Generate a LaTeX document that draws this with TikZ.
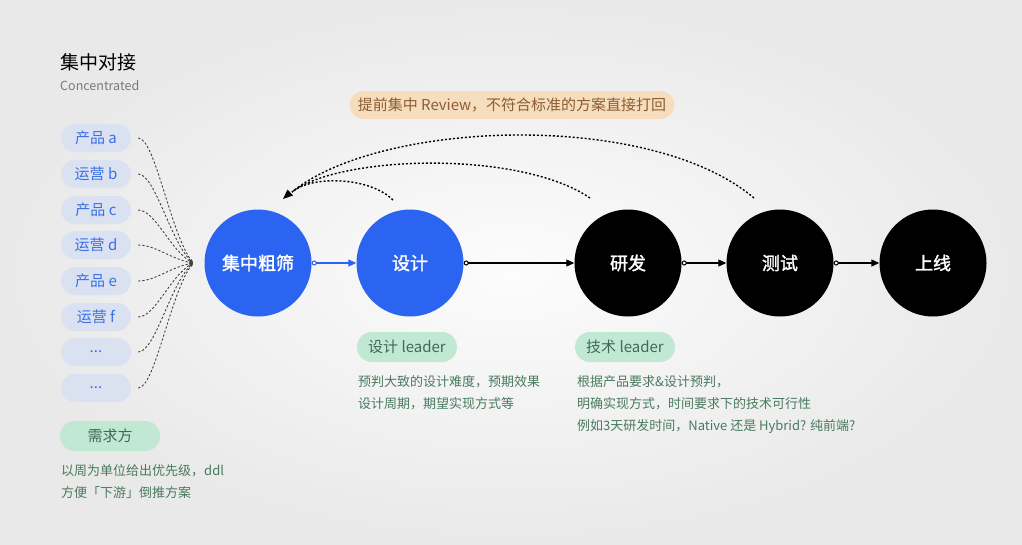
\documentclass[tikz,border=0pt]{standalone}
\usepackage{fontspec}
\setmainfont{Noto Sans CJK SC}
\newfontfamily\medfont{Noto Sans CJK SC}[FakeBold=1.6]
\usetikzlibrary{arrows.meta,positioning}
\definecolor{bgin}{HTML}{FCFCFC}
\definecolor{bgout}{HTML}{E9E9E9}
\definecolor{cblue}{HTML}{2B64F1}
\definecolor{pillblue}{HTML}{DAE2F2}
\definecolor{txtblue}{HTML}{3C6FE6}
\definecolor{pillgreen}{HTML}{C0E8D3}
\definecolor{txtgreen}{HTML}{3F6A55}
\definecolor{desc}{HTML}{497A5F}
\definecolor{pillorange}{HTML}{F6DDBE}
\definecolor{txtorange}{HTML}{8C5E33}
\definecolor{graytxt}{HTML}{7A7A7A}
\begin{document}
\begin{tikzpicture}[x=1pt,y=-1pt,
  reqpill/.style={rounded corners=14pt, fill=pillblue, minimum width=70pt, minimum height=28pt, inner sep=0pt, text=txtblue, font=\fontsize{15}{15}\selectfont},
  grnpill/.style={rounded corners=15pt, fill=pillgreen, minimum width=100pt, minimum height=30pt, inner sep=0pt, text=txtgreen, font=\fontsize{15}{15}\selectfont},
  stage/.style={circle, minimum size=107pt, inner sep=0pt, text=white, font=\medfont\fontsize{18}{18}\selectfont},
  desctext/.style={anchor=north west, inner sep=0pt, text=desc, align=left, font=\fontsize{13}{22}\selectfont},
  fan/.style={dash pattern=on 2.2pt off 2pt, line width=0.9pt, draw=black!75, -{Stealth[length=4pt,width=3pt]}},
  back/.style={dash pattern=on 2pt off 2pt, line width=1.4pt, draw=black},
  flow/.style={line width=1.2pt, {Circle[length=5pt,fill=white,line width=1pt]}-{Triangle[length=8pt,width=7pt]}}
]
\shade[inner color=bgin, outer color=bgout] (0,0) rectangle (1022,544);
\useasboundingbox (0,0) rectangle (1022,544);

% title
\node[anchor=west, inner sep=0pt, font=\fontsize{19}{19}\selectfont] (title) at (60,62) {集中对接};
\node[anchor=west, inner sep=0pt, text=graytxt, font=\fontsize{12.5}{12.5}\selectfont] (sub) at (60,86) {Concentrated};

% requirement pills
\node[reqpill] (r1) at (96,138) {产品 a};
\node[reqpill] (r2) at (96,174) {运营 b};
\node[reqpill] (r3) at (96,210) {产品 c};
\node[reqpill] (r4) at (96,245) {运营 d};
\node[reqpill] (r5) at (96,281) {产品 e};
\node[reqpill] (r6) at (96,317) {运营 f};
\node[reqpill] (r7) at (96,352) {...};
\node[reqpill] (r8) at (96,388) {...};

\coordinate (hub) at (193,263);
\foreach \i/\y in {1/138,2/174,3/210,4/245,5/281,6/317,7/352,8/388}{
  \pgfmathsetmacro{\cy}{0.25*\y+0.75*263}
  \draw[fan] ([xshift=7pt]r\i.east) .. controls (155,\y) and (170,\cy) .. (hub);
}

% stages
\node[stage, fill=cblue] (c1) at (258,263) {集中粗筛};
\node[stage, fill=cblue] (c2) at (410,263) {设计};
\node[stage, fill=black] (c3) at (628,263) {研发};
\node[stage, fill=black] (c4) at (780,263) {测试};
\node[stage, fill=black] (c5) at (933,263) {上线};

\draw[flow, draw=cblue, fill=cblue] (c1.east) -- (c2.west);
\draw[flow, draw=black] (c2.east) -- (c3.west);
\draw[flow, draw=black] (c3.east) -- (c4.west);
\draw[flow, draw=black] (c4.east) -- (c5.west);

% review pill
\node[rounded corners=14pt, fill=pillorange, minimum width=325pt, minimum height=28pt, inner sep=0pt, text=txtorange, font=\fontsize{15}{15}\selectfont] (review) at (512,105) {提前集中 Review，不符合标准的方案直接打回};

% feedback curves
\coordinate (f1) at (393,200);
\coordinate (f2) at (590,198);
\coordinate (f3) at (754,198);
\coordinate (tip) at (292,192);
\draw[back] (f1) .. controls (370,177) and (312,175) .. (tip);
\draw[back] (f2) .. controls (520,150) and (340,155) .. (tip);
\draw[back] (f3) .. controls (650,110) and (380,120) .. (tip);
\fill (283,199) -- (293,195.5) -- (287.5,189.5) -- cycle;

% green pills
\node[grnpill] (g1) at (407,347) {设计 leader};
\node[grnpill] (g2) at (625,347) {技术 leader};
\node[grnpill] (g3) at (110,436) {需求方};

\node[desctext] (d1) at (358,375) {预判大致的设计难度，预期效果\\设计周期，期望实现方式等};
\node[desctext] (d2) at (577,375) {根据产品要求\&设计预判，\\明确实现方式，时间要求下的技术可行性\\例如3天研发时间，Native 还是 Hybrid? 纯前端?};
\node[desctext] (d3) at (61,464) {以周为单位给出优先级，ddl\\方便「下游」倒推方案};
\end{tikzpicture}
\end{document}
